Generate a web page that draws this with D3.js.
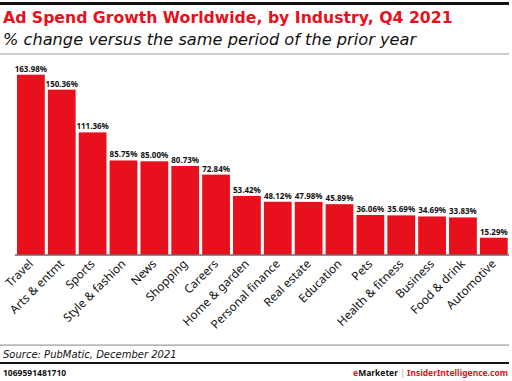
<!DOCTYPE html>
<html>
<head>
<meta charset="utf-8">
<script src="https://cdn.jsdelivr.net/npm/d3@7"></script>
<style>
  body { margin: 0; background: #fff; }
  svg { display: block; font-family: "Noto Sans", sans-serif; }
</style>
</head>
<body>
<div id="chart"></div>
<script>
// Chart data
const industries = ["Travel", "Arts & entmt", "Sports", "Style & fashion", "News", "Shopping",
  "Careers", "Home & garden", "Personal finance", "Real estate", "Education", "Pets",
  "Health & fitness", "Business", "Food & drink", "Automotive"];
const growth = [163.98, 150.36, 111.36, 85.75, 85.00, 80.73, 72.84, 53.42, 48.12, 47.98,
  45.89, 36.06, 35.69, 34.69, 33.83, 15.29];

const width = 512, height = 381;
const red = "#e8101c";
const wide = "DejaVu Sans, sans-serif";

const svg = d3.select("#chart").append("svg")
  .attr("width", width).attr("height", height);

// Header
svg.append("rect").attr("x", 0).attr("y", 2).attr("width", 509).attr("height", 3).attr("fill", "#111");
svg.append("text").attr("x", 3).attr("y", 22.5)
  .attr("font-family", wide)
  .attr("fill", red).attr("font-size", 15.7).attr("font-weight", 700)
  .text("Ad Spend Growth Worldwide, by Industry, Q4 2021");
svg.append("text").attr("x", 3).attr("y", 45)
  .attr("font-family", wide)
  .attr("fill", "#111").attr("font-size", 16.2).attr("font-style", "italic")
  .text("% change versus the same period of the prior year");
svg.append("rect").attr("x", 0).attr("y", 53.5).attr("width", 509).attr("height", 1).attr("fill", "#999");

// Scales
const baseY = 254.5;
const x = d3.scaleBand().domain(industries).range([17, 507.7]).paddingInner(0.1).paddingOuter(0);
const y = d3.scaleLinear().domain([0, 163.98]).range([baseY, 74.7]);

// Bars
svg.append("g").selectAll("rect").data(industries).join("rect")
  .attr("x", d => x(d))
  .attr("y", (d, i) => y(growth[i]))
  .attr("width", x.bandwidth())
  .attr("height", (d, i) => baseY - y(growth[i]))
  .attr("fill", red);

// Value labels
svg.append("g").selectAll("text").data(industries).join("text")
  .attr("x", d => x(d) + x.bandwidth() / 2)
  .attr("y", (d, i) => y(growth[i]) - 3)
  .attr("text-anchor", "middle")
  .attr("font-size", 8).attr("font-weight", 700).attr("fill", "#111")
  .text((d, i) => growth[i].toFixed(2) + "%");

// X axis
const xAxis = svg.append("g").attr("transform", `translate(0,${baseY})`)
  .call(d3.axisBottom(x).tickSize(0).tickPadding(0));
xAxis.select(".domain").remove();
svg.append("line").attr("x1", 15).attr("x2", 509).attr("y1", baseY + 0.5).attr("y2", baseY + 0.5)
  .attr("stroke", "#222").attr("stroke-width", 1.2);
xAxis.selectAll(".tick text")
  .attr("font-family", "Noto Sans, sans-serif")
  .attr("font-size", 11.8).attr("fill", "#111")
  .attr("text-anchor", "end")
  .attr("dy", 0)
  .attr("transform", "translate(3,10) rotate(-45)");

// Footer
svg.append("rect").attr("x", 0).attr("y", 344.5).attr("width", 509).attr("height", 1.2).attr("fill", "#999");
svg.append("text").attr("x", 3).attr("y", 358)
  .attr("font-family", wide)
  .attr("font-size", 10).attr("font-style", "italic").attr("fill", "#111")
  .text("Source: PubMatic, December 2021");
svg.append("rect").attr("x", 0).attr("y", 362).attr("width", 509).attr("height", 2).attr("fill", "#111");
svg.append("text").attr("x", 3).attr("y", 376)
  .attr("font-size", 8.5).attr("font-weight", 700).attr("fill", "#111")
  .text("1069591481710");
const brand = svg.append("text").attr("x", 508).attr("y", 376)
  .attr("text-anchor", "end").attr("font-size", 8.5).attr("font-weight", 700);
brand.append("tspan").attr("fill", red).text("e");
brand.append("tspan").attr("fill", "#111").text("Marketer");
brand.append("tspan").attr("fill", "#aaa").attr("font-weight", 400).text("  |  ");
brand.append("tspan").attr("fill", red).text("InsiderIntelligence.com");
</script>
</body>
</html>
